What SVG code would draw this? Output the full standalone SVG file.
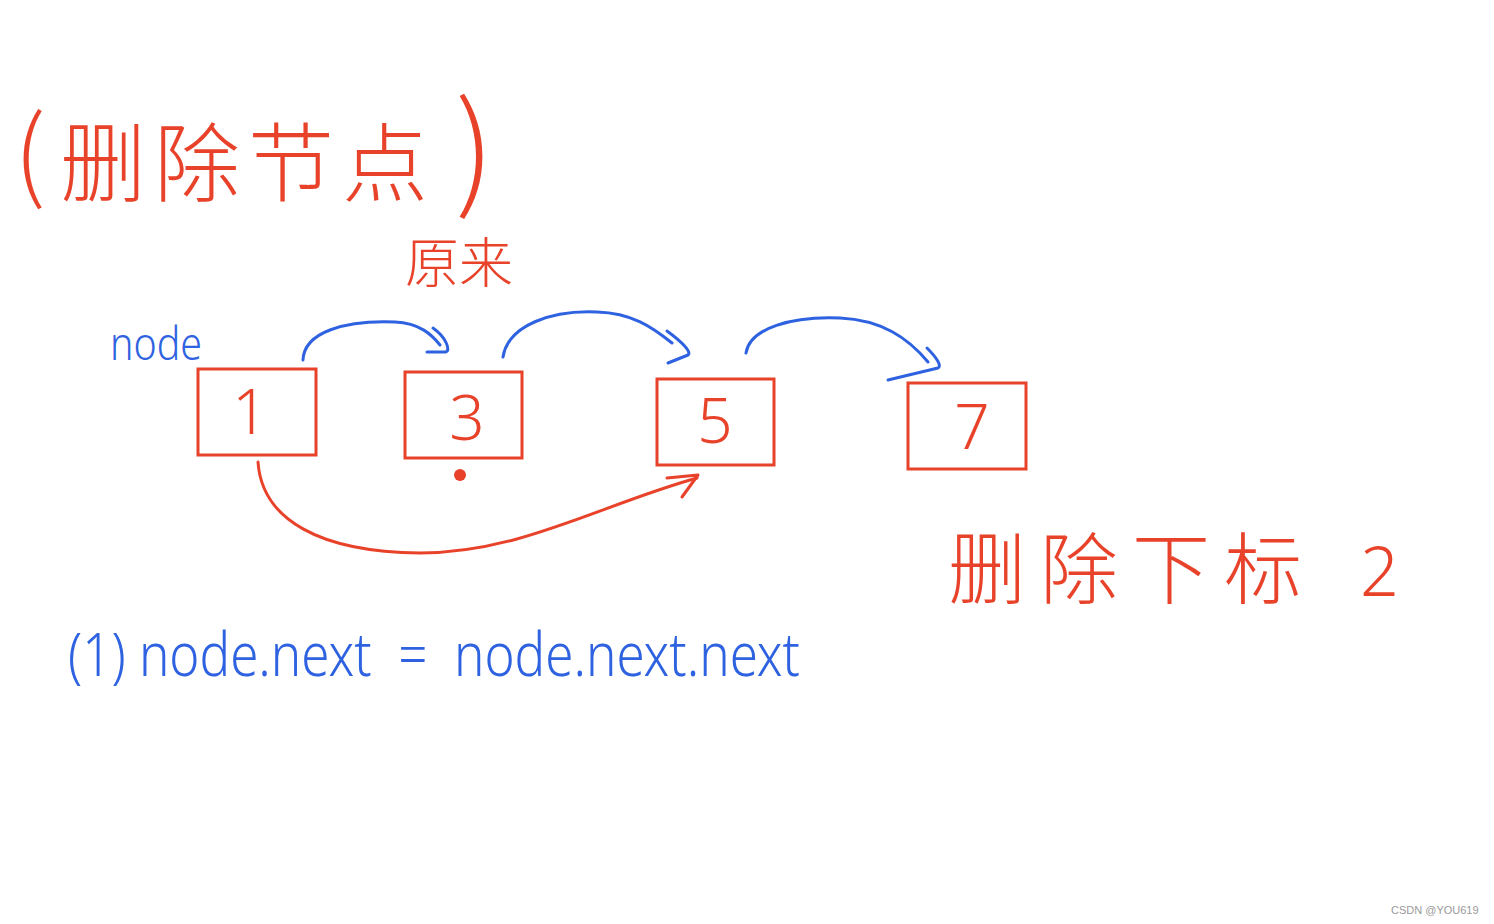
<svg xmlns="http://www.w3.org/2000/svg" width="1494" height="924" viewBox="0 0 1494 924">
<style>
.red{fill:#e8432a;font-family:"Noto Sans CJK SC","Noto Sans",sans-serif;font-weight:300}
.blue{fill:#2e62e0;font-family:"Noto Sans","Liberation Sans",sans-serif;font-weight:300}
.box{fill:none;stroke:#e8432a;stroke-width:3}
.num{fill:#e8432a;font-family:"Noto Sans",sans-serif;font-weight:300;font-size:62px;text-anchor:middle}
.bl{fill:none;stroke:#2e62e0;stroke-width:3;stroke-linecap:round;stroke-linejoin:round}
.rl{fill:none;stroke:#e8432a;stroke-width:3;stroke-linecap:round;stroke-linejoin:round}
</style>
<rect width="1494" height="924" fill="#ffffff"/>
<g id="title">
<text class="red" x="14" y="190" font-size="100">(</text>
<text class="red" x="60" y="195" font-size="86" letter-spacing="8">删除节点</text>
<text class="red" x="455" y="195" font-size="125">)</text>
</g>
<text id="yuanlai" class="red" x="405" y="283" font-size="54">原来</text>
<text id="node-label" class="blue" x="110" y="360" font-size="46" textLength="92" lengthAdjust="spacingAndGlyphs">node</text>
<g id="n1"><rect class="box" x="198" y="369" width="118" height="86"/><text class="num" x="250" y="434">1</text></g>
<g id="n3"><rect class="box" x="405" y="372" width="117" height="86"/><text class="num" x="467" y="440">3</text></g>
<g id="n5"><rect class="box" x="657" y="379" width="117" height="86"/><text class="num" x="715" y="443">5</text></g>
<g id="n7"><rect class="box" x="908" y="383" width="118" height="86"/><text class="num" x="972" y="449">7</text></g>
<g id="connectors">
<path class="bl" d="M303,360 C304,332 345,320 395,322 C420,323 432,335 440,345"/>
<path class="bl" d="M433,328 C447,338 450,350 446,352 L427,352"/>
<path class="bl" d="M503,357 C508,325 552,310 597,312 C632,313 652,327 672,343"/>
<path class="bl" d="M667,331 C682,342 692,352 688,355 L668,363"/>
<path class="bl" d="M746,353 C750,328 792,316 840,318 C882,320 908,338 928,362"/>
<path class="bl" d="M927,348 C937,358 942,366 938,368 L888,380"/>
<path class="rl" d="M258,462 C262,520 320,552 420,553 C520,553 600,505 697,478"/>
<path class="rl" d="M667,478 L698,475 L682,497"/>
<circle cx="460" cy="475" r="6" fill="#e8432a"/>
</g>
<text id="del-index" class="red" x="948" y="598" font-size="78" letter-spacing="14">删除下标</text>
<text class="red" x="1360" y="596" font-size="68" font-weight="300" style="font-family:'Noto Sans',sans-serif">2</text>
<text id="code" class="blue" x="68" y="676" font-size="60" textLength="732" lengthAdjust="spacingAndGlyphs" xml:space="preserve">(1) node.next  =  node.next.next</text>
<text x="1391" y="914" font-size="11" fill="#9a9a9a" font-family="Liberation Sans, sans-serif">CSDN @YOU619</text>
</svg>
